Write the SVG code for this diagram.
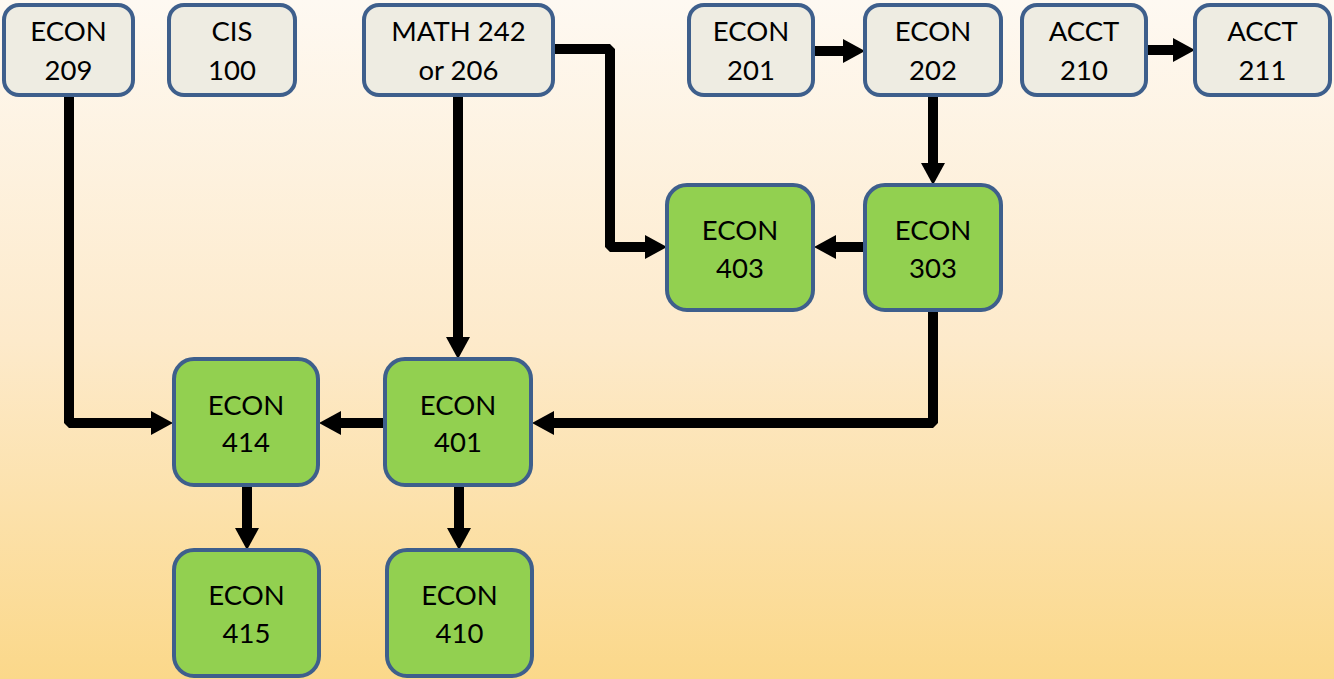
<svg xmlns="http://www.w3.org/2000/svg" width="1334" height="679" viewBox="0 0 1334 679">
<defs>
<linearGradient id="bg" x1="0" y1="0" x2="0" y2="1">
<stop offset="0" stop-color="#FEF9F2"/>
<stop offset="0.5" stop-color="#FDEACB"/>
<stop offset="1" stop-color="#FBD88A"/>
</linearGradient>
<marker id="ah" markerUnits="userSpaceOnUse" markerWidth="24" markerHeight="26" refX="0" refY="12" orient="auto" overflow="visible">
<path d="M0,0 L22,12 L0,24 z" fill="#000"/>
</marker>
<style>
.g rect{fill:#EEECE2;stroke:#3E5F8C;stroke-width:4}
.n rect{fill:#92D050;stroke:#3E5F8C;stroke-width:4}
text{font-family:Lato,"Open Sans","Liberation Sans",sans-serif;font-size:27.5px;fill:#000;text-anchor:middle}
.c path{fill:none;stroke:#000;stroke-width:10;stroke-linejoin:bevel;marker-end:url(#ah)}
</style>
</defs>
<rect x="0" y="0" width="1334" height="679" fill="url(#bg)"/>
<g class="c" id="connectors">
<path d="M69,97 V423 H151"/>
<path d="M385,423 H341"/>
<path d="M458,97 V337"/>
<path d="M555,49 H610 V247 H645"/>
<path d="M815,51 H843"/>
<path d="M1148,50 H1173"/>
<path d="M933,97 V163"/>
<path d="M865,247 H836"/>
<path d="M933,312 V423 H554"/>
<path d="M247,487 V528"/>
<path d="M459,487 V528"/>
</g>
<g id="econ209" class="g"><rect x="4" y="5" width="129" height="90" rx="15"/><text x="68.5" y="41">ECON</text><text x="68.5" y="80">209</text></g>
<g id="cis100" class="g"><rect x="169" y="5" width="126" height="90" rx="15"/><text x="232" y="41">CIS</text><text x="232" y="80">100</text></g>
<g id="math242" class="g"><rect x="364" y="5" width="189" height="90" rx="15"/><text x="458.5" y="41">MATH 242</text><text x="458.5" y="80">or 206</text></g>
<g id="econ201" class="g"><rect x="689" y="5" width="124" height="90" rx="15"/><text x="751" y="41">ECON</text><text x="751" y="80">201</text></g>
<g id="econ202" class="g"><rect x="865" y="5" width="136" height="90" rx="15"/><text x="933" y="41">ECON</text><text x="933" y="80">202</text></g>
<g id="acct210" class="g"><rect x="1022" y="5" width="124" height="90" rx="15"/><text x="1084" y="41">ACCT</text><text x="1084" y="80">210</text></g>
<g id="acct211" class="g"><rect x="1195" y="5" width="135" height="90" rx="15"/><text x="1262.5" y="41">ACCT</text><text x="1262.5" y="80">211</text></g>
<g id="econ403" class="n"><rect x="667" y="185" width="146" height="125" rx="20"/><text x="740" y="240">ECON</text><text x="740" y="278">403</text></g>
<g id="econ303" class="n"><rect x="865" y="185" width="136" height="125" rx="20"/><text x="933" y="240">ECON</text><text x="933" y="278">303</text></g>
<g id="econ414" class="n"><rect x="174" y="359" width="144" height="126" rx="20"/><text x="246" y="415">ECON</text><text x="246" y="452">414</text></g>
<g id="econ401" class="n"><rect x="385" y="359" width="146" height="126" rx="20"/><text x="458" y="415">ECON</text><text x="458" y="452">401</text></g>
<g id="econ415" class="n"><rect x="174" y="550" width="145" height="126" rx="20"/><text x="246.5" y="605">ECON</text><text x="246.5" y="643">415</text></g>
<g id="econ410" class="n"><rect x="387" y="550" width="145" height="126" rx="20"/><text x="459.5" y="605">ECON</text><text x="459.5" y="643">410</text></g>
</svg>
